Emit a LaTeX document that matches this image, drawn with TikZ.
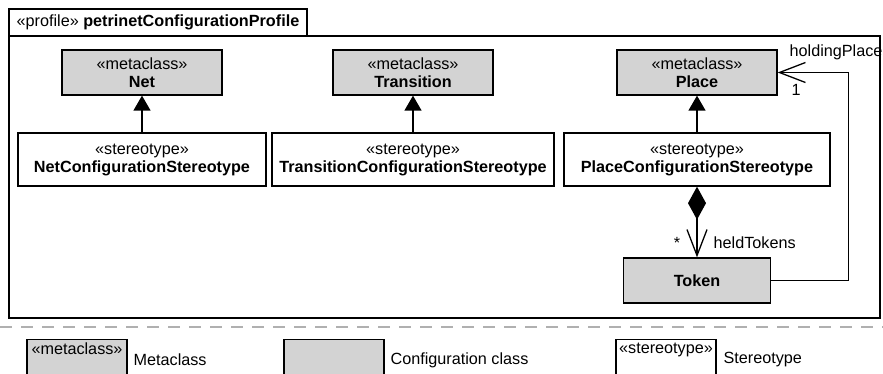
\documentclass[tikz,border=0pt]{standalone}
\usepackage{fontspec}
\setmainfont{Liberation Sans}
\usepackage{tikz}
\usetikzlibrary{arrows.meta}
\usepackage{xcolor}
\definecolor{cfggray}{HTML}{D3D3D3}
\definecolor{dashgray}{HTML}{B0B0B0}

\begin{document}
\begin{tikzpicture}[x=1pt, y=-1pt, line width=1.3pt,
    every node/.style={font=\fontsize{16.2}{18}\selectfont, inner sep=0pt},
    umlbox/.style={draw, align=center, minimum height=45pt},
    metabox/.style={umlbox, fill=cfggray},
    stereobox/.style={umlbox, fill=white, minimum height=53pt},
    extends/.style={-{Triangle[width=17pt,length=15pt]}},
    openend/.style={-{Straight Barb[width=20pt,length=26pt]}}]
    \clip (0,0) rectangle (883,374);
    % Profile frame and its tab
    \draw (9,36) rectangle (880,318);
    \draw (9,9) rectangle (307,36);
    \node[anchor=west] (title) at (16,22.5) {«profile» \textbf{petrinetConfigurationProfile}};
    % Metaclasses
    \node[metabox, minimum width=160pt] (net) at (142,72.5) {«metaclass»\\\textbf{Net}};
    \node[metabox, minimum width=160pt] (trans) at (413,72.5) {«metaclass»\\\textbf{Transition}};
    \node[metabox, minimum width=160pt] (place) at (697,72.5) {«metaclass»\\\textbf{Place}};
    % Stereotypes
    \node[stereobox, minimum width=248pt] (netst) at (142,159.5) {«stereotype»\\\textbf{NetConfigurationStereotype}};
    \node[stereobox, minimum width=282pt] (transst) at (413,159.5) {«stereotype»\\\textbf{TransitionConfigurationStereotype}};
    \node[stereobox, minimum width=266pt] (placest) at (697,159.5) {«stereotype»\\\textbf{PlaceConfigurationStereotype}};
    % Configuration class
    \node[metabox, minimum width=147pt] (token) at (697,280.5) {\textbf{Token}};
    % Extensions
    \draw[extends] (netst) -- (net);
    \draw[extends] (transst) -- (trans);
    \draw[extends] (placest) -- (place);
    % Composition and association
    \draw[{Diamond[width=18pt,length=33pt]}-{Straight Barb[width=20pt,length=26pt]}] (placest) -- (token);
    \draw[openend] (token.east) -- ++(77,0) |- (place.east);
    % Role names and multiplicities
    \node (many) at (677,243) {*};
    \node[anchor=west] (held) at (713,243) {heldTokens};
    \node[anchor=west] (holdlbl) at (789,52) {holdingPlace};
    \node[anchor=west] (one) at (791,90) {1};
    % Legend
    \draw[dashgray, dash pattern=on 12pt off 9pt] (0,327) -- (883,327);
    \node[metabox, minimum width=100pt, minimum height=50pt, anchor=north] (legmeta) at (77,339) {};
    \node[anchor=north] (legmetatxt) at ([yshift=-3pt]legmeta.north) {«metaclass»};
    \node[anchor=west] (legmetalbl) at (133,360) {Metaclass};
    \node[metabox, minimum width=100pt, minimum height=50pt, anchor=north] (legcfg) at (334,339) {};
    \node[anchor=west] (legcfglbl) at (390,360) {Configuration class};
    \node[stereobox, minimum width=100pt, minimum height=50pt, anchor=north] (legst) at (666,339) {};
    \node[anchor=north] (legsttxt) at ([yshift=-3pt]legst.north) {«stereotype»};
    \node[anchor=west] (legstlbl) at (723,360) {Stereotype};
\end{tikzpicture}
\end{document}
